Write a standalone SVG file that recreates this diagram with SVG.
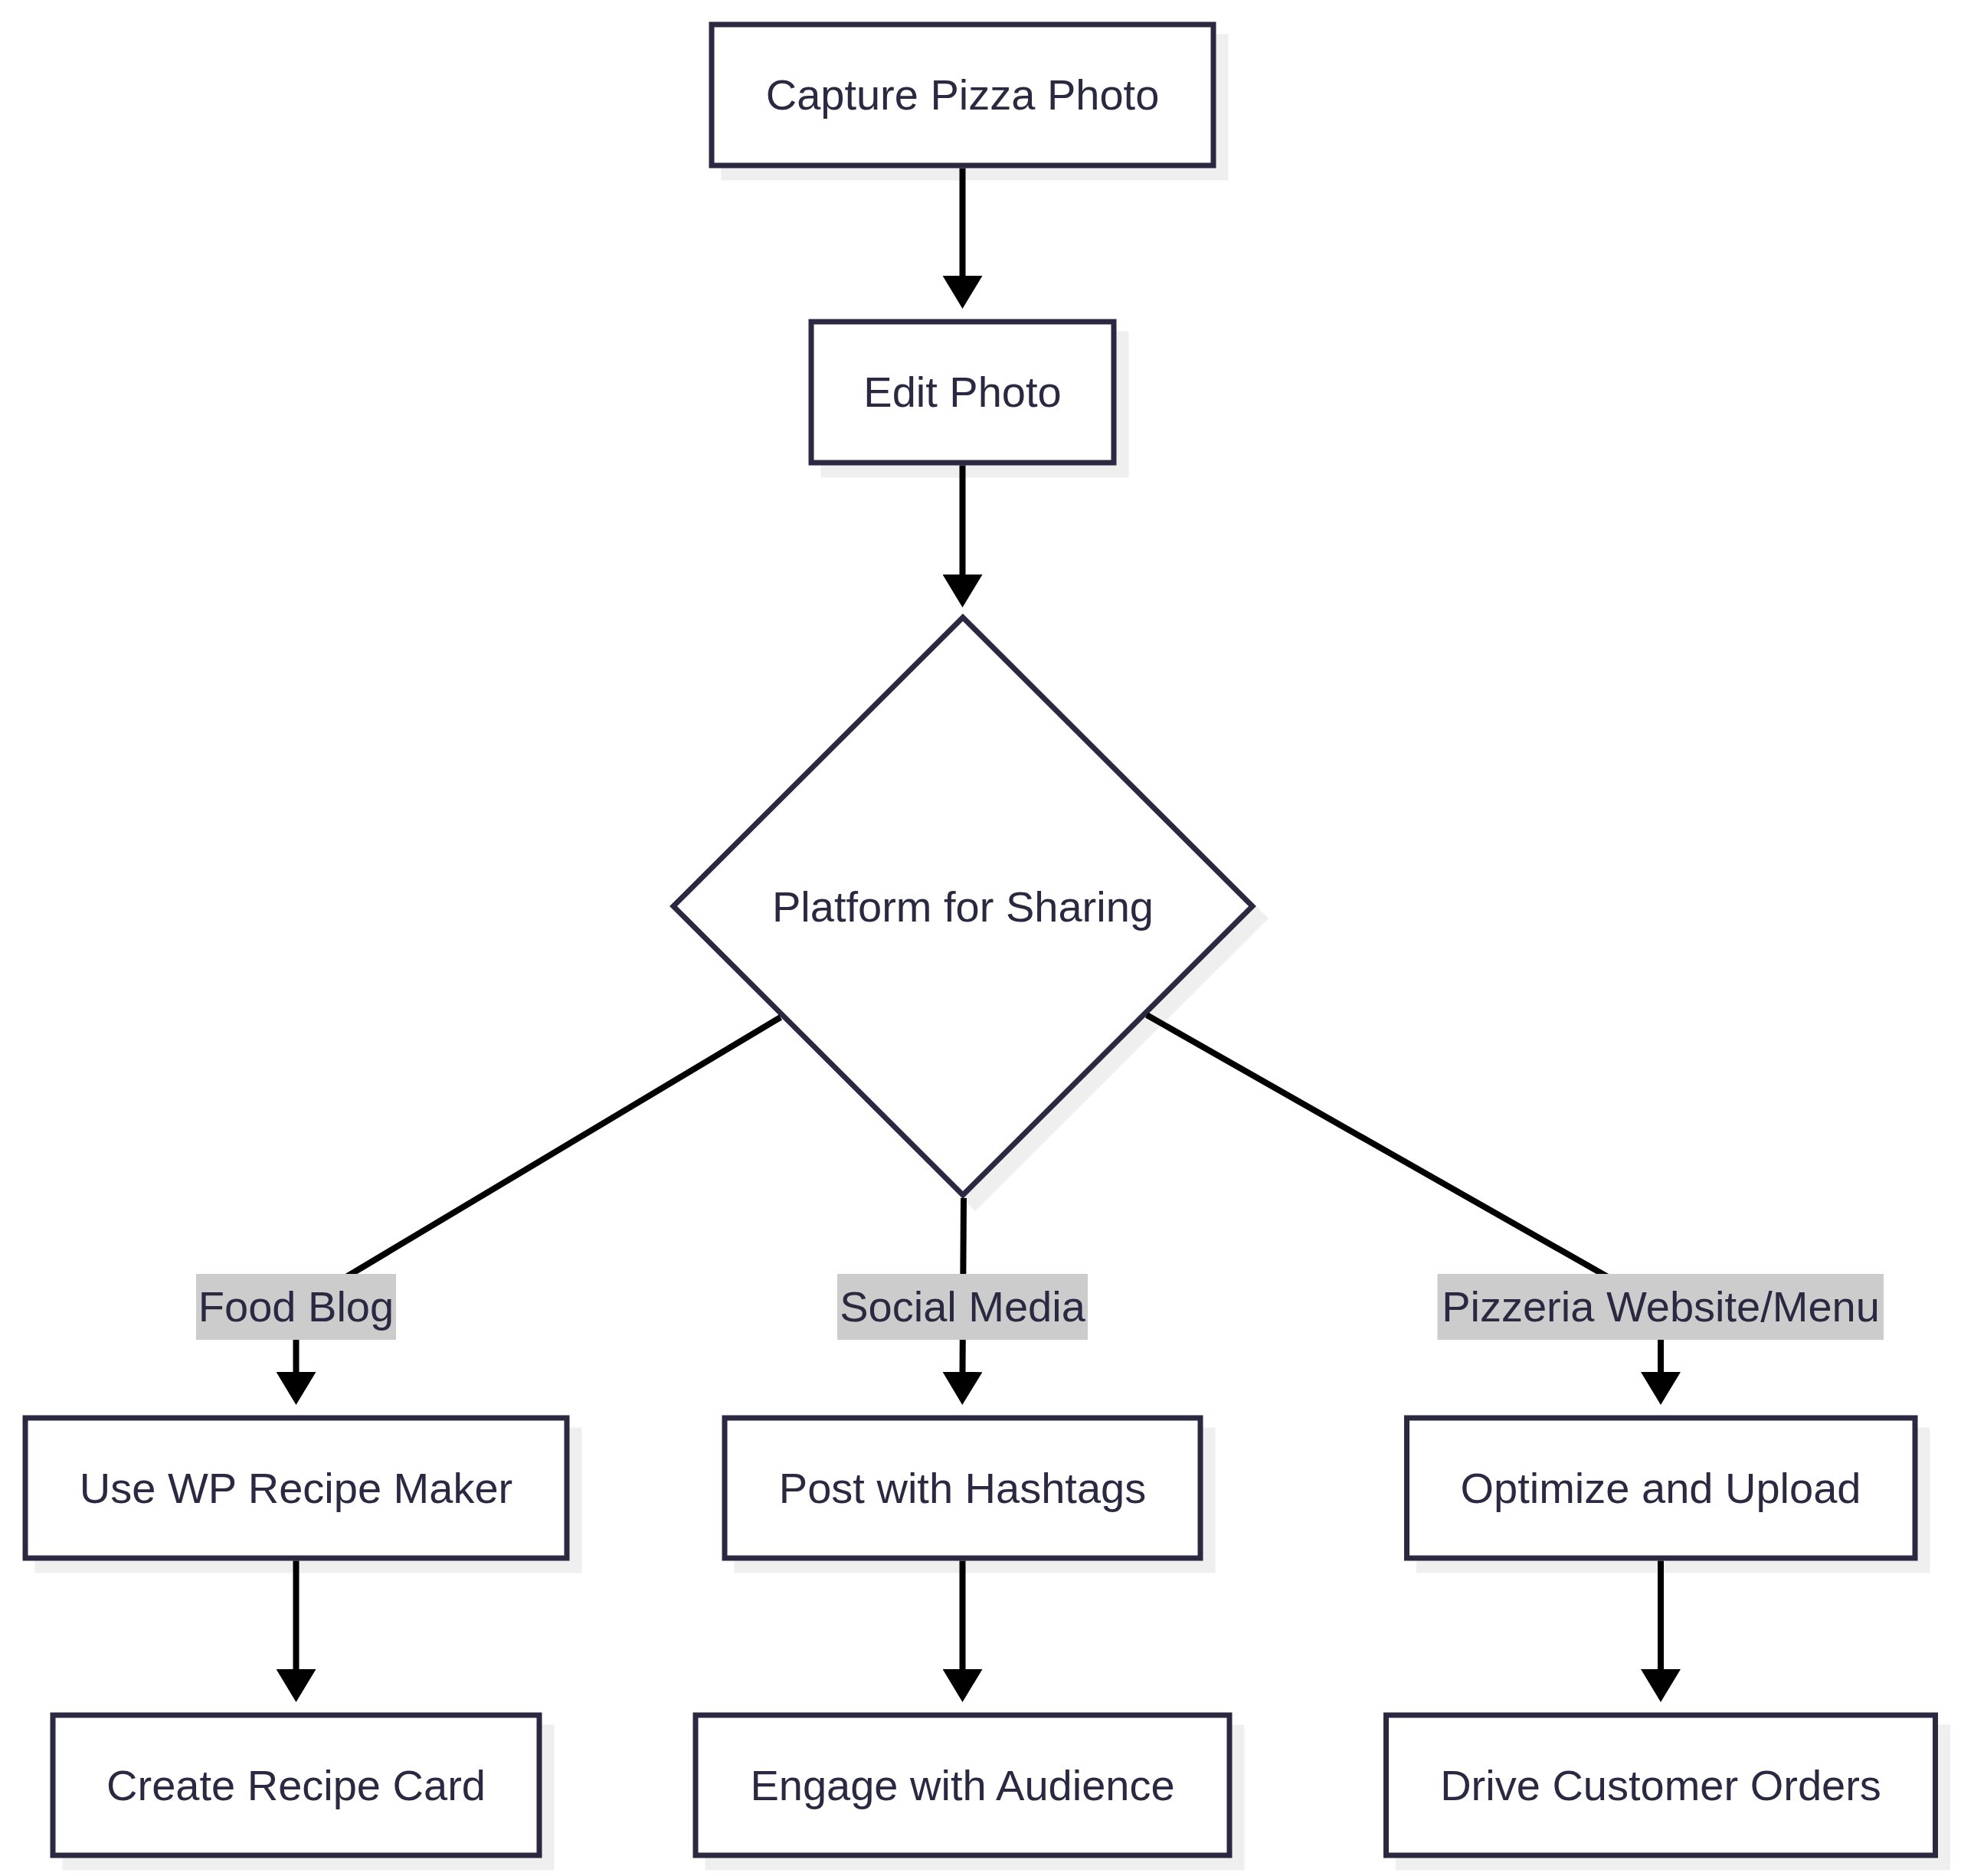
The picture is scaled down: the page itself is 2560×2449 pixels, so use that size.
<svg xmlns="http://www.w3.org/2000/svg" width="2560" height="2449" viewBox="0 0 2560 2449">
<defs>
<style>
.bg{fill:#ffffff}
.shadow{fill:#efefef;stroke:#efefef;stroke-width:7}
.box{fill:#ffffff;stroke:#2a2941;stroke-width:7}
.t{font-family:"Liberation Sans",Arial,sans-serif;font-size:56px;fill:#2a2941;text-anchor:middle}
.edge{fill:none;stroke:#000000;stroke-width:8}
.lbl{fill:#cccccc}
</style>
<marker id="arr" viewBox="0 0 43 52" markerUnits="userSpaceOnUse" markerWidth="43" markerHeight="52" refX="0" refY="26" orient="auto">
<path d="M0,0 L43,26 L0,52 Z" fill="#000000"/>
</marker>
</defs>
<rect class="bg" x="0" y="0" width="2560" height="2449"/>

<g id="capture">
<rect class="shadow" x="945" y="48" width="655" height="184"/>
<rect class="box" x="929" y="32" width="655" height="184"/>
<text class="t" x="1256.5" y="143">Capture Pizza Photo</text>
</g>

<g id="edit">
<rect class="shadow" x="1075" y="436" width="395" height="184"/>
<rect class="box" x="1059" y="420" width="395" height="184"/>
<text class="t" x="1256.5" y="531">Edit Photo</text>
</g>

<g id="platform">
<polygon class="shadow" points="1273,822 1651,1199 1273,1576 895,1199"/>
<polygon class="box" points="1257,806 1635,1183 1257,1560 879,1183"/>
<text class="t" x="1257" y="1203">Platform for Sharing</text>
</g>

<g id="wp">
<rect class="shadow" x="49" y="1867" width="707" height="183"/>
<rect class="box" x="33" y="1851" width="707" height="183"/>
<text class="t" x="386.5" y="1962">Use WP Recipe Maker</text>
</g>

<g id="post">
<rect class="shadow" x="962" y="1867" width="621" height="183"/>
<rect class="box" x="946" y="1851" width="621" height="183"/>
<text class="t" x="1256.5" y="1962">Post with Hashtags</text>
</g>

<g id="optimize">
<rect class="shadow" x="1852.5" y="1867" width="663.5" height="183"/>
<rect class="box" x="1836.5" y="1851" width="663.5" height="183"/>
<text class="t" x="2168" y="1962">Optimize and Upload</text>
</g>

<g id="create">
<rect class="shadow" x="85" y="2255" width="635" height="183"/>
<rect class="box" x="69" y="2239" width="635" height="183"/>
<text class="t" x="386.5" y="2350">Create Recipe Card</text>
</g>

<g id="engage">
<rect class="shadow" x="924" y="2255" width="697" height="183"/>
<rect class="box" x="908" y="2239" width="697" height="183"/>
<text class="t" x="1256.5" y="2350">Engage with Audience</text>
</g>

<g id="drive">
<rect class="shadow" x="1825.5" y="2255" width="717" height="183"/>
<rect class="box" x="1809.5" y="2239" width="717" height="183"/>
<text class="t" x="2168" y="2350">Drive Customer Orders</text>
</g>

<g id="connectors">
<path class="edge" d="M1256.5,219.5 L1256.5,360" marker-end="url(#arr)"/>
<path class="edge" d="M1256.5,607.5 L1256.5,750" marker-end="url(#arr)"/>
<path class="edge" d="M1019,1328 L400,1698 Q386.5,1706 386.5,1720 L386.5,1791" marker-end="url(#arr)"/>
<path class="edge" d="M1258,1564 L1256.5,1791" marker-end="url(#arr)"/>
<path class="edge" d="M1497,1325 L2150,1696 Q2168,1706 2168,1720 L2168,1791" marker-end="url(#arr)"/>
<path class="edge" d="M386.5,2037.5 L386.5,2179" marker-end="url(#arr)"/>
<path class="edge" d="M1256.5,2037.5 L1256.5,2179" marker-end="url(#arr)"/>
<path class="edge" d="M2168,2037.5 L2168,2179" marker-end="url(#arr)"/>
</g>

<g id="edge-labels">
<g id="label-food-blog">
<rect class="lbl" x="256" y="1663" width="261" height="86"/>
<text class="t" x="386.5" y="1725">Food Blog</text>
</g>
<g id="label-social-media">
<rect class="lbl" x="1093" y="1663" width="327" height="86"/>
<text class="t" x="1256.5" y="1725">Social Media</text>
</g>
<g id="label-pizzeria">
<rect class="lbl" x="1876.5" y="1663" width="582.5" height="86"/>
<text class="t" x="2168" y="1725">Pizzeria Website/Menu</text>
</g>
</g>
</svg>
